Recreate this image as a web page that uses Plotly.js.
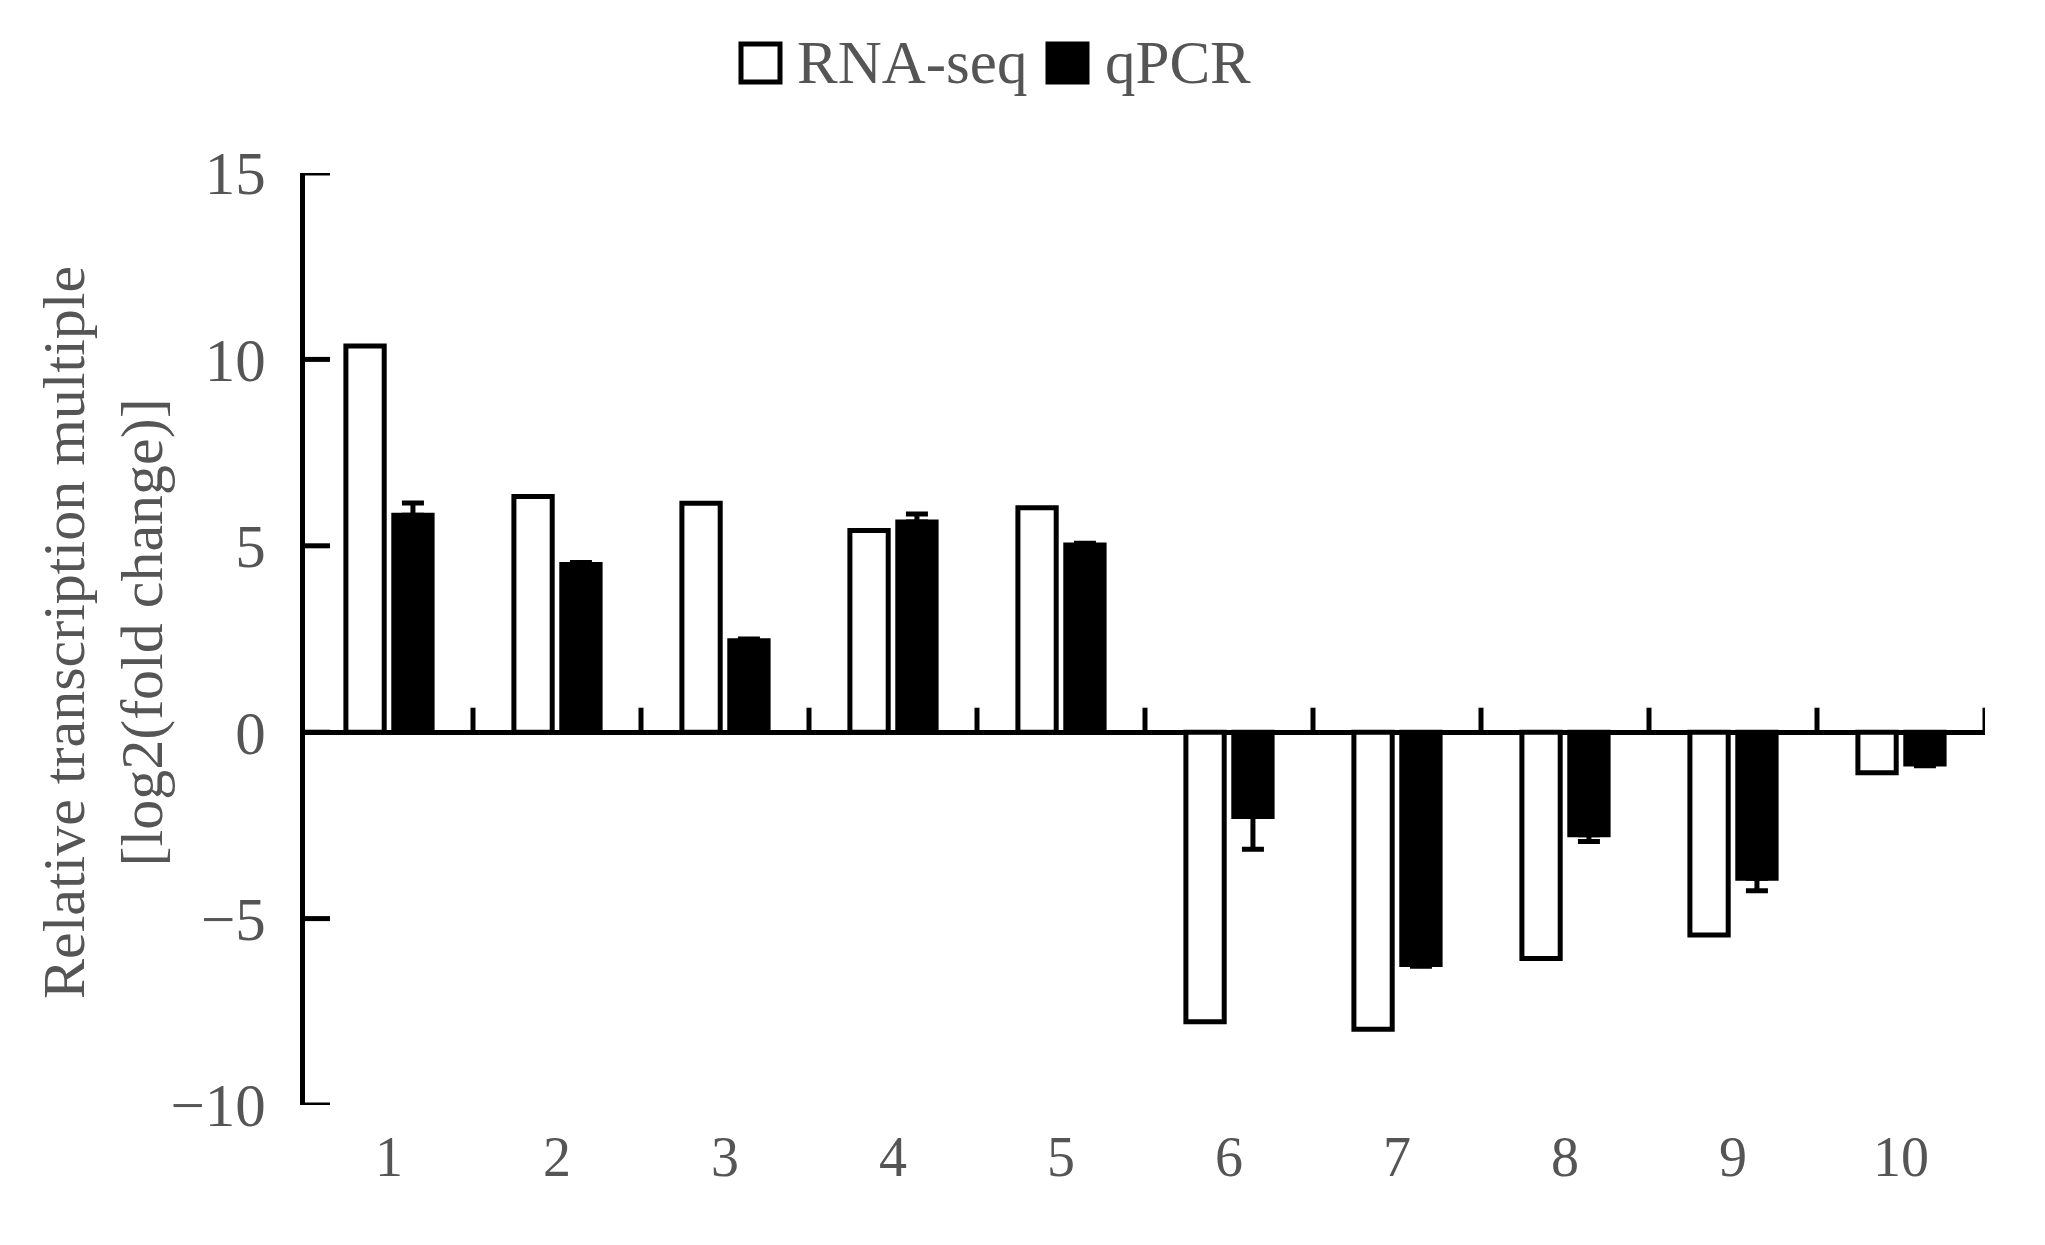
<!DOCTYPE html>
<html>
<head>
<meta charset="utf-8">
<script src="https://cdn.plot.ly/plotly-3.0.1.min.js"></script>
<style>html,body{margin:0;padding:0;background:#fff;}#chart{width:2045px;height:1245px;}</style>
</head>
<body>
<div id="chart"></div>
<script>
// ---- data ----
const categories = [1, 2, 3, 4, 5, 6, 7, 8, 9, 10];
const tickLabels = ["1", "2", "3", "4", "5", "6", "7", "8", "9", "10"];
const rnaSeq = [10.36, 6.32, 6.14, 5.41, 6.02, -7.77, -7.97, -6.07, -5.44, -1.09];
const qpcr = [5.82, 4.50, 2.45, 5.64, 5.02, -2.26, -6.23, -2.75, -3.92, -0.85];
const qpcrErr = [0.33, 0.05, 0.05, 0.21, 0.05, 0.88, 0.05, 0.18, 0.33, 0.05];
const seriesNames = ["RNA-seq", "qPCR"];
const yTitle = "Relative transcription multiple<br>[log2(fold change)]";
const yTicks = [-10, -5, 0, 5, 10, 15];
const boundaries = [1.5, 2.5, 3.5, 4.5, 5.5, 6.5, 7.5, 8.5, 9.5, 10.5];

// ---- layout geometry ----
const W = 2045, H = 1245;
const M = {l: 305, r: 60, t: 173, b: 140};
const pw = W - M.l - M.r, ph = H - M.t - M.b;
const px2x = p => (p - M.l) / pw;
const px2y = p => (H - M.b - p) / ph;
const grey = "#555555";
const fontFam = "Liberation Serif, Times New Roman, serif";
const LW = 5;

const errUp = qpcr.map((v, i) => v >= 0 ? qpcrErr[i] : 0);
const errDown = qpcr.map((v, i) => v < 0 ? qpcrErr[i] : 0);

const traces = [
  {
    type: "bar", name: seriesNames[0], x: categories, y: rnaSeq,
    marker: {color: "#ffffff", line: {color: "#000000", width: LW}},
    showlegend: false
  },
  {
    type: "bar", name: seriesNames[1], x: categories, y: qpcr,
    marker: {color: "#000000", line: {color: "#000000", width: LW}},
    error_y: {type: "data", symmetric: false, array: errUp, arrayminus: errDown,
              color: "#000000", thickness: LW, width: 11, visible: true},
    showlegend: false
  }
];

// x-axis boundary tick marks at y = 0, pointing up
const xTickShapes = boundaries.map(b => ({
  type: "line", xref: "x", yref: "y", ysizemode: "pixel", yanchor: 0,
  x0: b, x1: b, y0: 0, y1: 24.5,
  line: {color: "#000000", width: LW}
}));
// y-axis tick marks, pointing right (inside)
const yTickShapes = yTicks.map(v => ({
  type: "line", xref: "x", yref: "y", xsizemode: "pixel", xanchor: 0.5,
  x0: -2, x1: 25, y0: v, y1: v,
  line: {color: "#000000", width: LW}
}));

const layout = {
  width: W, height: H,
  margin: M,
  paper_bgcolor: "#ffffff", plot_bgcolor: "#ffffff",
  font: {family: fontFam, color: grey, size: 56},
  barmode: "group", bargap: 0.43, bargroupgap: 0.2,
  showlegend: false,
  xaxis: {
    range: [0.5, 10.5], tickmode: "array", tickvals: categories, ticktext: tickLabels,
    ticks: "", showline: false, showgrid: false, zeroline: false,
    tickfont: {family: fontFam, size: 56, color: grey}, ticklabelstandoff: 14
  },
  yaxis: {
    range: [-10, 15], tickmode: "array", tickvals: yTicks,
    ticks: "", showline: true, linecolor: "#000000", linewidth: LW,
    showgrid: false,
    zeroline: true, zerolinecolor: "#000000", zerolinewidth: LW,
    tickfont: {family: fontFam, size: 61, color: grey}, ticklabelstandoff: 22
  },
  shapes: [
    {type: "rect", xref: "paper", yref: "paper",
     x0: px2x(741), x1: px2x(780), y0: px2y(82), y1: px2y(44),
     fillcolor: "#ffffff", line: {color: "#000000", width: 5}},
    {type: "rect", xref: "paper", yref: "paper",
     x0: px2x(1048), x1: px2x(1087), y0: px2y(82), y1: px2y(44),
     fillcolor: "#000000", line: {color: "#000000", width: 5}}
  ].concat(xTickShapes, yTickShapes),
  annotations: [
    {xref: "paper", yref: "paper", x: px2x(795), y: px2y(63), xanchor: "left", yanchor: "middle",
     text: seriesNames[0], showarrow: false, font: {family: fontFam, size: 61, color: grey}},
    {xref: "paper", yref: "paper", x: px2x(1103), y: px2y(63), xanchor: "left", yanchor: "middle",
     text: seriesNames[1], showarrow: false, font: {family: fontFam, size: 61, color: grey}},
    {xref: "paper", yref: "paper", x: px2x(103), y: px2y(633), xanchor: "center", yanchor: "middle",
     textangle: -90, text: yTitle, showarrow: false,
     font: {family: fontFam, size: 60, color: grey}}
  ]
};

Plotly.newPlot("chart", traces, layout, {displayModeBar: false, staticPlot: true});
</script>
</body>
</html>
